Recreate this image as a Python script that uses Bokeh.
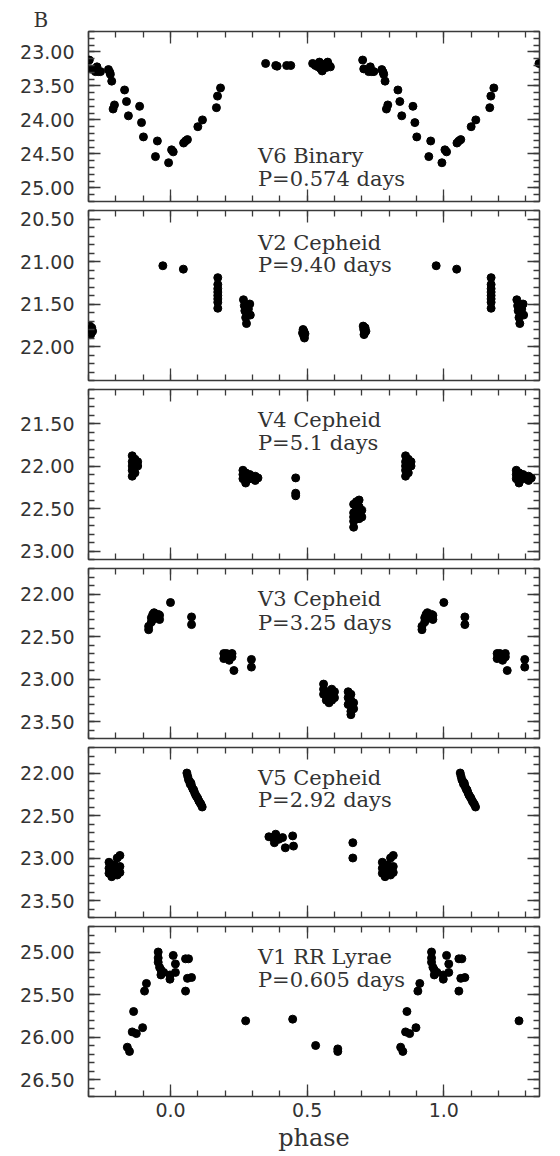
from bokeh.plotting import figure
from bokeh.layouts import column
from bokeh.models import (Range1d, FixedTicker, SingleIntervalTicker, PrintfTickFormatter,
                          LinearAxis, Label, ColumnDataSource, Title, CustomLabelingPolicy)
from bokeh.embed import file_html
from bokeh.resources import INLINE

# ---------------- data (phase in [0,1), magnitude) ----------------
star_names = ["V6 Binary", "V2 Cepheid", "V4 Cepheid", "V3 Cepheid", "V5 Cepheid", "V1 RR Lyrae"]
star_periods = ["P=0.574 days", "P=9.40 days", "P=5.1 days", "P=3.25 days", "P=2.92 days", "P=0.605 days"]

v6_phase = [0.703, 0.707, 0.725, 0.731, 0.736, 0.744, 0.773, 0.778, 0.780, 0.785, 0.790, 0.795,
            0.832, 0.839, 0.846, 0.887, 0.894, 0.901, 0.945, 0.952, 0.993,
            0.004, 0.010, 0.048, 0.055, 0.062, 0.100, 0.117, 0.168, 0.172, 0.183,
            0.348, 0.385, 0.390, 0.425, 0.440,
            0.520, 0.530, 0.540, 0.545, 0.550, 0.555, 0.560, 0.565, 0.570, 0.575, 0.580, 0.585]
v6_mag = [23.12, 23.25, 23.29, 23.22, 23.29, 23.29, 23.26, 23.30, 23.33, 23.43, 23.84, 23.78,
          23.56, 23.73, 23.94, 23.80, 24.04, 24.25, 24.54, 24.31, 24.63,
          24.44, 24.47, 24.34, 24.31, 24.29, 24.10, 24.00, 23.82, 23.65, 23.53,
          23.17, 23.20, 23.21, 23.20, 23.20,
          23.17, 23.20, 23.22, 23.15, 23.25, 23.28, 23.20, 23.18, 23.23, 23.15, 23.20, 23.22]

v2_phase = [0.047,
            0.173, 0.173, 0.173, 0.173, 0.173, 0.173, 0.173, 0.173,
            0.267, 0.270, 0.272, 0.275, 0.278, 0.280, 0.290, 0.292, 0.285,
            0.485, 0.483, 0.487, 0.490, 0.488, 0.492,
            0.705, 0.707, 0.710, 0.712, 0.715, 0.708,
            0.972]
v2_mag = [21.09,
          21.19, 21.27, 21.32, 21.36, 21.40, 21.44, 21.48, 21.55,
          21.45, 21.52, 21.58, 21.66, 21.73, 21.62, 21.50, 21.63, 21.56,
          21.80, 21.84, 21.87, 21.90, 21.82, 21.85,
          21.76, 21.80, 21.84, 21.78, 21.82, 21.86,
          21.05]

v4_phase = [0.860, 0.860, 0.860, 0.860, 0.860, 0.870, 0.870, 0.870, 0.880, 0.880,
            0.265, 0.265, 0.265, 0.275, 0.275, 0.275, 0.290, 0.290, 0.310, 0.310, 0.320,
            0.458, 0.458, 0.458,
            0.670, 0.670, 0.670, 0.670, 0.670, 0.680, 0.680, 0.680, 0.680,
            0.690, 0.690, 0.690, 0.690, 0.700, 0.700]
v4_mag = [21.88, 21.95, 22.00, 22.05, 22.12, 21.92, 21.98, 22.08, 21.95, 22.00,
          22.05, 22.10, 22.15, 22.08, 22.13, 22.20, 22.10, 22.15, 22.12, 22.17, 22.14,
          22.14, 22.32, 22.35,
          22.45, 22.55, 22.60, 22.65, 22.72, 22.42, 22.50, 22.58, 22.62,
          22.40, 22.48, 22.55, 22.62, 22.52, 22.60]

v3_phase = [0.920, 0.920, 0.930, 0.930, 0.935, 0.935, 0.940, 0.940, 0.955, 0.955, 0.960, 0.960,
            0.000, 0.077, 0.077,
            0.195, 0.195, 0.205, 0.205, 0.215, 0.215, 0.225, 0.225, 0.232, 0.296, 0.296,
            0.560, 0.560, 0.560, 0.570, 0.570, 0.570, 0.580, 0.580, 0.580, 0.590, 0.590, 0.590,
            0.600, 0.600,
            0.650, 0.650, 0.650, 0.660, 0.660, 0.660, 0.660, 0.670, 0.670]
v3_mag = [22.38, 22.42, 22.33, 22.28, 22.24, 22.30, 22.22, 22.26, 22.24, 22.27, 22.25, 22.30,
          22.10, 22.27, 22.36,
          22.70, 22.76, 22.70, 22.74, 22.72, 22.78, 22.70, 22.74, 22.90, 22.77, 22.86,
          23.06, 23.12, 23.18, 23.15, 23.20, 23.25, 23.18, 23.22, 23.28, 23.12, 23.20, 23.25,
          23.15, 23.22,
          23.15, 23.22, 23.30, 23.18, 23.25, 23.38, 23.42, 23.28, 23.35]

v5_phase = [0.060, 0.063, 0.066, 0.070, 0.072, 0.075, 0.078, 0.082, 0.085, 0.088, 0.092,
            0.096, 0.100, 0.104, 0.108, 0.112, 0.116,
            0.360, 0.373, 0.380, 0.385, 0.396, 0.410, 0.420, 0.447, 0.450,
            0.667, 0.667,
            0.775, 0.775, 0.775, 0.785, 0.785, 0.785, 0.795, 0.795,
            0.805, 0.805, 0.805, 0.815, 0.815, 0.815]
v5_mag = [22.00, 22.04, 22.08, 22.10, 22.13, 22.12, 22.16, 22.19, 22.20, 22.23, 22.26,
          22.28, 22.30, 22.33, 22.35, 22.37, 22.40,
          22.75, 22.76, 22.82, 22.72, 22.78, 22.76, 22.88, 22.74, 22.86,
          22.82, 23.00,
          23.05, 23.12, 23.18, 23.10, 23.15, 23.22, 23.08, 23.14,
          23.00, 23.12, 23.20, 22.97, 23.10, 23.17]

v1_phase = [0.842, 0.850, 0.860, 0.875, 0.865, 0.898, 0.905, 0.912,
            0.955, 0.955, 0.955, 0.960, 0.965, 0.965, 0.975, 0.998, 0.998,
            0.010, 0.018, 0.018, 0.055, 0.055, 0.066, 0.062, 0.077,
            0.275, 0.447, 0.531, 0.612, 0.612]
v1_mag = [26.12, 26.17, 25.94, 25.96, 25.70, 25.89, 25.46, 25.37,
          25.00, 25.07, 25.12, 25.18, 25.21, 25.27, 25.24, 25.32, 25.27,
          25.04, 25.14, 25.24, 25.08, 25.46, 25.08, 25.31, 25.30,
          25.81, 25.79, 26.10, 26.14, 26.17]

all_phase = [v6_phase, v2_phase, v4_phase, v3_phase, v5_phase, v1_phase]
all_mag = [v6_mag, v2_mag, v4_mag, v3_mag, v5_mag, v1_mag]

# magnitude axis ranges (bright at top) and label positions
y_ranges = [(22.7, 25.2), (20.4, 22.4), (21.1, 23.1), (21.7, 23.7), (21.7, 23.7), (24.7, 26.7)]
name_y = [24.53, 20.78, 21.46, 22.06, 22.06, 25.06]
period_y = [24.87, 21.04, 21.73, 22.34, 22.32, 25.33]

x_start, x_end = -0.3, 1.35
x_major = [0.0, 0.5, 1.0]
x_minor = [-0.3, -0.2, -0.1, 0.0, 0.1, 0.2, 0.3, 0.4, 0.5, 0.6, 0.7, 0.8, 0.9, 1.0, 1.1, 1.2, 1.3]


def fold(ph, mg):
    xs, ys = [], []
    for p, m in zip(ph, mg):
        for s in (-1, 0, 1):
            q = p + s
            if x_start <= q <= x_end:
                xs.append(q)
                ys.append(m)
    return xs, ys


FRAME = "#3a3a3a"
TICK_FONT = "DejaVu Sans"
TEXT_FONT = "DejaVu Serif"


def style_axis(ax, labels):
    ax.axis_line_color = None
    ax.major_tick_in = 12
    ax.major_tick_out = 0
    ax.minor_tick_in = 6
    ax.minor_tick_out = 0
    ax.major_tick_line_color = FRAME
    ax.minor_tick_line_color = FRAME
    ax.major_tick_line_width = 1.3
    ax.minor_tick_line_width = 1.3
    if labels:
        ax.major_label_text_font = TICK_FONT
        ax.major_label_text_font_size = "19px"
        ax.major_label_text_color = "#333333"
    else:
        ax.major_label_text_font_size = "0px"
        ax.major_label_standoff = 0
        ax.major_label_policy = CustomLabelingPolicy(
            code="for (const i of Array.from(indices)) { indices.unset(i) } return indices")


figs = []
n = len(all_phase)
for i in range(n):
    top = 31 if i == 0 else 5
    bottom = 60 if i == n - 1 else 4
    lo, hi = y_ranges[i]
    p = figure(width=552, height=170 + top + bottom,
               x_range=Range1d(x_start, x_end), y_range=Range1d(hi, lo),
               x_axis_location=None, y_axis_location=None,
               output_backend="svg", toolbar_location=None,
               min_border_left=88, min_border_right=13,
               min_border_top=top, min_border_bottom=bottom)
    p.grid.visible = False
    p.outline_line_color = FRAME
    p.outline_line_width = 1.6
    p.background_fill_color = "white"
    p.border_fill_color = "white"

    for side in ("below", "above"):
        ax = LinearAxis(ticker=FixedTicker(ticks=x_major, minor_ticks=x_minor),
                        formatter=PrintfTickFormatter(format="%.1f"))
        show = (side == "below" and i == n - 1)
        style_axis(ax, show)
        if show:
            ax.major_label_standoff = 6
            ax.axis_label = "phase"
            ax.axis_label_text_font = TEXT_FONT
            ax.axis_label_text_font_style = "normal"
            ax.axis_label_text_font_size = "24px"
            ax.axis_label_text_color = "#333333"
            ax.axis_label_standoff = 4
        p.add_layout(ax, side)

    for side in ("left", "right"):
        ax = LinearAxis(ticker=SingleIntervalTicker(interval=0.5, num_minor_ticks=5),
                        formatter=PrintfTickFormatter(format="%.2f"))
        show = side == "left"
        style_axis(ax, show)
        if show:
            ax.major_label_standoff = 14
        p.add_layout(ax, side)

    xs, ys = fold(all_phase[i], all_mag[i])
    src = ColumnDataSource(dict(phase=xs, mag=ys))
    p.scatter("phase", "mag", source=src, size=8, color="black", line_color="black")

    p.add_layout(Label(x=0.32, y=name_y[i], text=star_names[i], text_font=TEXT_FONT,
                       text_font_size="21px", text_color="#333333",
                       text_baseline="alphabetic"))
    p.add_layout(Label(x=0.32, y=period_y[i], text=star_periods[i], text_font=TEXT_FONT,
                       text_font_size="21px", text_color="#333333",
                       text_baseline="alphabetic"))
    if i == 0:
        p.add_layout(Title(text="B", align="left", offset=-55, standoff=0,
                           text_font=TEXT_FONT, text_font_size="20px",
                           text_font_style="normal", text_color="#333333"), "above")
    figs.append(p)

layout = column(*figs, spacing=0)
open("out.html", "w").write(file_html(layout, INLINE))
